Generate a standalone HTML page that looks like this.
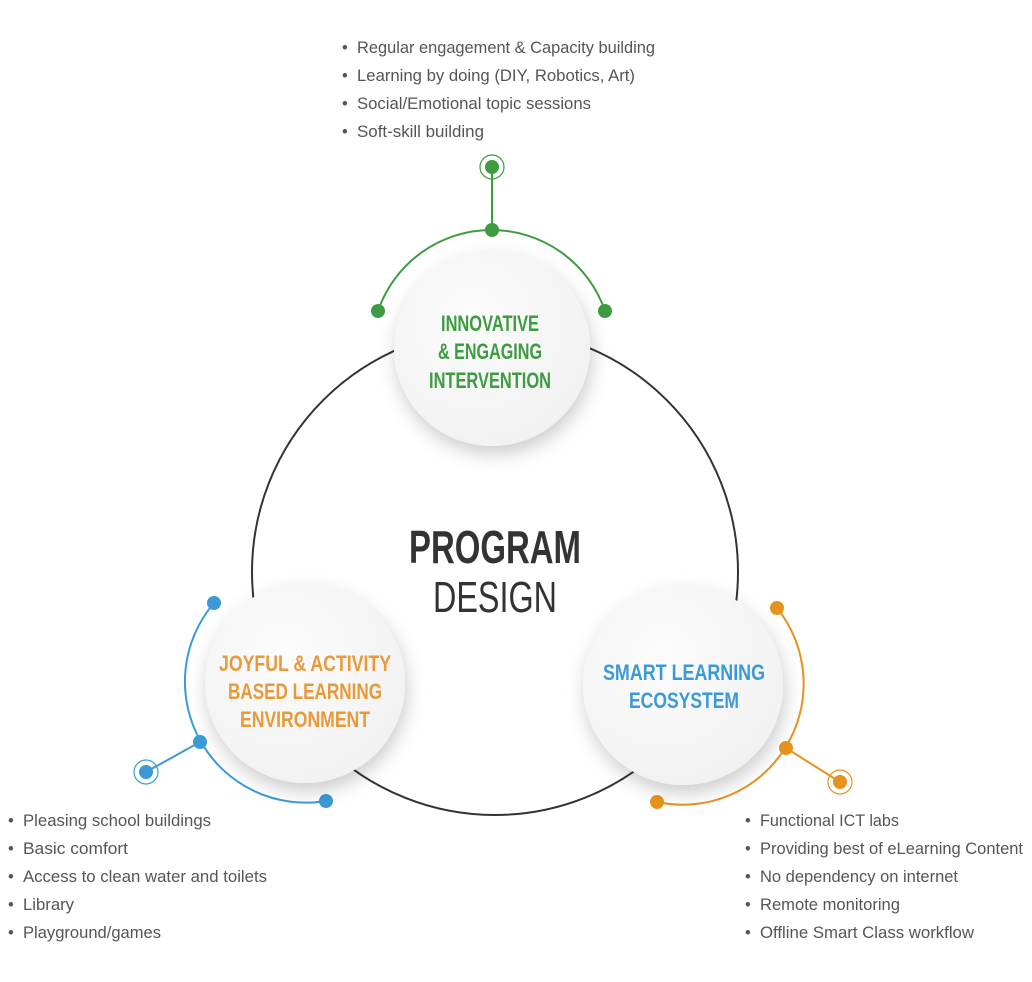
<!DOCTYPE html>
<html><head><meta charset="utf-8"><style>
html,body{margin:0;padding:0;background:#fff;}
svg{display:block}
.b{font-family:"Liberation Sans Narrow","Liberation Sans",sans-serif;font-size:16.4px;fill:#555;}
.h{font-family:"Liberation Sans Narrow","Liberation Sans",sans-serif;font-weight:bold;font-size:22px;text-anchor:middle;}
</style></head><body>
<svg width="1032" height="982" viewBox="0 0 1032 982" xmlns="http://www.w3.org/2000/svg">
<defs>
<filter id="sh" x="-30%" y="-30%" width="160%" height="160%">
<feDropShadow dx="2" dy="8" stdDeviation="9" flood-color="#000" flood-opacity="0.2"/>
</filter>
<radialGradient id="g" cx="40%" cy="35%" r="70%"><stop offset="0" stop-color="#fcfcfc"/><stop offset="1" stop-color="#f1f1f1"/></radialGradient>
</defs>
<circle cx="495" cy="572" r="243" fill="none" stroke="#333" stroke-width="2"/>
<path d="M378 311 A120 120 0 0 1 605 311" fill="none" stroke="#3d9b40" stroke-width="2"/>
<line x1="492" y1="167" x2="492" y2="230" stroke="#3d9b40" stroke-width="2"/>
<circle cx="492" cy="230" r="7" fill="#3d9b40"/><circle cx="378" cy="311" r="7" fill="#3d9b40"/><circle cx="605" cy="311" r="7" fill="#3d9b40"/>
<circle cx="492" cy="167" r="7" fill="#3d9b40"/><circle cx="492" cy="167" r="12" fill="none" stroke="#3d9b40" stroke-width="1.2"/>
<path d="M214 603 A121 121 0 0 0 326 801" fill="none" stroke="#3b9ad5" stroke-width="2"/>
<line x1="146" y1="772" x2="200" y2="742" stroke="#3b9ad5" stroke-width="2"/>
<circle cx="214" cy="603" r="7" fill="#3b9ad5"/><circle cx="200" cy="742" r="7" fill="#3b9ad5"/><circle cx="326" cy="801" r="7" fill="#3b9ad5"/>
<circle cx="146" cy="772" r="7" fill="#3b9ad5"/><circle cx="146" cy="772" r="12" fill="none" stroke="#3b9ad5" stroke-width="1.2"/>
<path d="M777 608 A121 121 0 0 1 657 802" fill="none" stroke="#e8921e" stroke-width="2"/>
<line x1="840" y1="782" x2="786" y2="748" stroke="#e8921e" stroke-width="2"/>
<circle cx="777" cy="608" r="7" fill="#e8921e"/><circle cx="786" cy="748" r="7" fill="#e8921e"/><circle cx="657" cy="802" r="7" fill="#e8921e"/>
<circle cx="840" cy="782" r="7" fill="#e8921e"/><circle cx="840" cy="782" r="12" fill="none" stroke="#e8921e" stroke-width="1.2"/>
<circle cx="492" cy="348" r="98" fill="url(#g)" filter="url(#sh)"/>
<circle cx="305" cy="683" r="100" fill="url(#g)" filter="url(#sh)"/>
<circle cx="683" cy="685" r="100" fill="url(#g)" filter="url(#sh)"/>
<g class="h" fill="#3d9b40">
<text x="490" y="331" textLength="98" lengthAdjust="spacingAndGlyphs">INNOVATIVE</text>
<text x="490" y="359" textLength="104" lengthAdjust="spacingAndGlyphs">&amp; ENGAGING</text>
<text x="490" y="388" textLength="122" lengthAdjust="spacingAndGlyphs">INTERVENTION</text>
</g>
<g class="h" fill="#e89a3a">
<text x="305" y="671" textLength="172" lengthAdjust="spacingAndGlyphs">JOYFUL &amp; ACTIVITY</text>
<text x="305" y="699" textLength="154" lengthAdjust="spacingAndGlyphs">BASED LEARNING</text>
<text x="305" y="727" textLength="130" lengthAdjust="spacingAndGlyphs">ENVIRONMENT</text>
</g>
<g class="h" fill="#3b9ad5">
<text x="684" y="680" textLength="162" lengthAdjust="spacingAndGlyphs">SMART LEARNING</text>
<text x="684" y="708" textLength="110" lengthAdjust="spacingAndGlyphs">ECOSYSTEM</text>
</g>
<text x="495" y="563" text-anchor="middle" font-family="Liberation Sans Narrow,Liberation Sans,sans-serif" font-weight="bold" font-size="46" fill="#333" textLength="172" lengthAdjust="spacingAndGlyphs">PROGRAM</text>
<text x="495" y="612" text-anchor="middle" font-family="Liberation Sans Narrow,Liberation Sans,sans-serif" font-size="44" fill="#333" textLength="124" lengthAdjust="spacingAndGlyphs">DESIGN</text>
<g class="b">
<text x="342" y="53">•</text><text x="357" y="53" textLength="298" lengthAdjust="spacingAndGlyphs">Regular engagement &amp; Capacity building</text>
<text x="342" y="81">•</text><text x="357" y="81" textLength="278" lengthAdjust="spacingAndGlyphs">Learning by doing (DIY, Robotics, Art)</text>
<text x="342" y="109">•</text><text x="357" y="109" textLength="234" lengthAdjust="spacingAndGlyphs">Social/Emotional topic sessions</text>
<text x="342" y="137">•</text><text x="357" y="137" textLength="127" lengthAdjust="spacingAndGlyphs">Soft-skill building</text>
<text x="8" y="826">•</text><text x="23" y="826" textLength="188" lengthAdjust="spacingAndGlyphs">Pleasing school buildings</text>
<text x="8" y="854">•</text><text x="23" y="854" textLength="105" lengthAdjust="spacingAndGlyphs">Basic comfort</text>
<text x="8" y="882">•</text><text x="23" y="882" textLength="244" lengthAdjust="spacingAndGlyphs">Access to clean water and toilets</text>
<text x="8" y="910">•</text><text x="23" y="910" textLength="51" lengthAdjust="spacingAndGlyphs">Library</text>
<text x="8" y="938">•</text><text x="23" y="938" textLength="138" lengthAdjust="spacingAndGlyphs">Playground/games</text>
<text x="745" y="826">•</text><text x="760" y="826" textLength="139" lengthAdjust="spacingAndGlyphs">Functional ICT labs</text>
<text x="745" y="854">•</text><text x="760" y="854" textLength="263" lengthAdjust="spacingAndGlyphs">Providing best of eLearning Content</text>
<text x="745" y="882">•</text><text x="760" y="882" textLength="198" lengthAdjust="spacingAndGlyphs">No dependency on internet</text>
<text x="745" y="910">•</text><text x="760" y="910" textLength="140" lengthAdjust="spacingAndGlyphs">Remote monitoring</text>
<text x="745" y="938">•</text><text x="760" y="938" textLength="214" lengthAdjust="spacingAndGlyphs">Offline Smart Class workflow</text>
</g>
</svg>
</body></html>
